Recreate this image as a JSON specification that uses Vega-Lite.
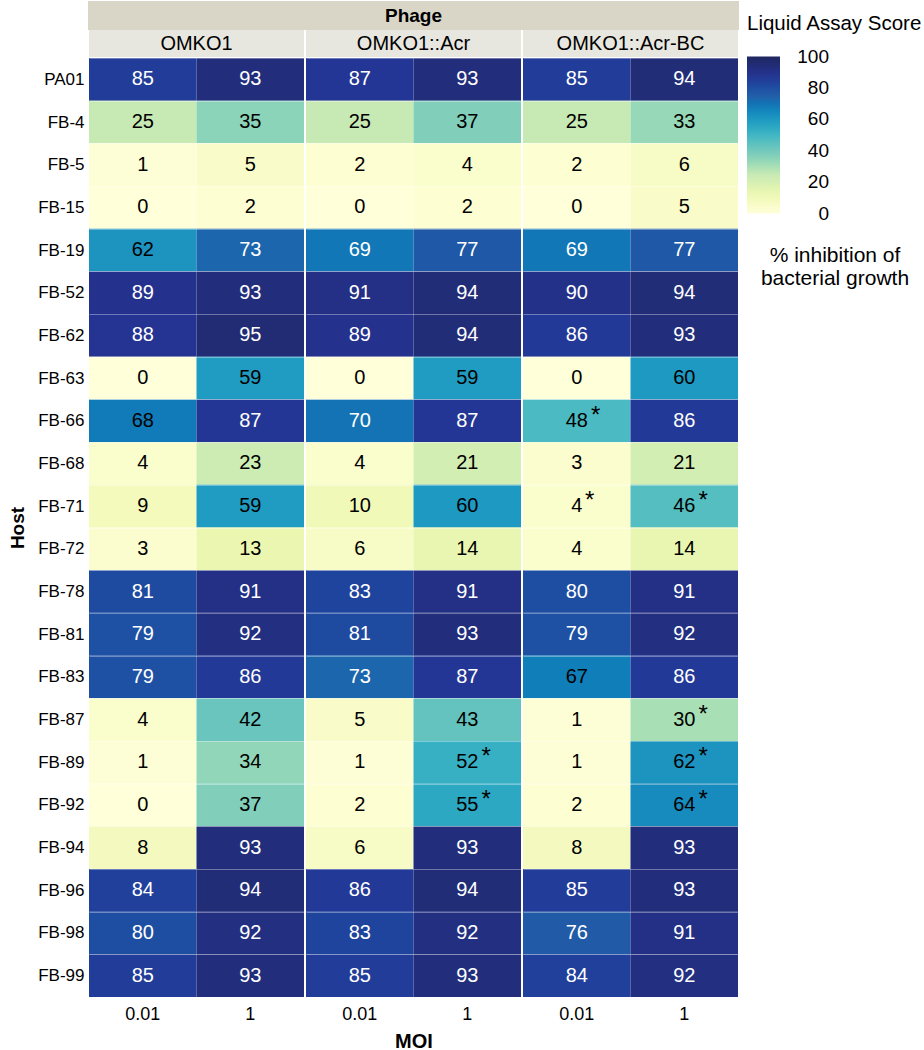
{
"$schema": "https://vega.github.io/schema/vega-lite/v6.json",
"padding": {"left": 8, "top": 1, "right": 0, "bottom": 0},
"spacing": 0,
"bounds": "full",
"data": {"values": [
{"host":"PA01","phage":"OMKO1","moi":"0.01","score":85},{"host":"PA01","phage":"OMKO1","moi":"1","score":93},{"host":"PA01","phage":"OMKO1::Acr","moi":"0.01","score":87},{"host":"PA01","phage":"OMKO1::Acr","moi":"1","score":93},{"host":"PA01","phage":"OMKO1::Acr-BC","moi":"0.01","score":85},{"host":"PA01","phage":"OMKO1::Acr-BC","moi":"1","score":94},
{"host":"FB-4","phage":"OMKO1","moi":"0.01","score":25},{"host":"FB-4","phage":"OMKO1","moi":"1","score":35},{"host":"FB-4","phage":"OMKO1::Acr","moi":"0.01","score":25},{"host":"FB-4","phage":"OMKO1::Acr","moi":"1","score":37},{"host":"FB-4","phage":"OMKO1::Acr-BC","moi":"0.01","score":25},{"host":"FB-4","phage":"OMKO1::Acr-BC","moi":"1","score":33},
{"host":"FB-5","phage":"OMKO1","moi":"0.01","score":1},{"host":"FB-5","phage":"OMKO1","moi":"1","score":5},{"host":"FB-5","phage":"OMKO1::Acr","moi":"0.01","score":2},{"host":"FB-5","phage":"OMKO1::Acr","moi":"1","score":4},{"host":"FB-5","phage":"OMKO1::Acr-BC","moi":"0.01","score":2},{"host":"FB-5","phage":"OMKO1::Acr-BC","moi":"1","score":6},
{"host":"FB-15","phage":"OMKO1","moi":"0.01","score":0},{"host":"FB-15","phage":"OMKO1","moi":"1","score":2},{"host":"FB-15","phage":"OMKO1::Acr","moi":"0.01","score":0},{"host":"FB-15","phage":"OMKO1::Acr","moi":"1","score":2},{"host":"FB-15","phage":"OMKO1::Acr-BC","moi":"0.01","score":0},{"host":"FB-15","phage":"OMKO1::Acr-BC","moi":"1","score":5},
{"host":"FB-19","phage":"OMKO1","moi":"0.01","score":62},{"host":"FB-19","phage":"OMKO1","moi":"1","score":73},{"host":"FB-19","phage":"OMKO1::Acr","moi":"0.01","score":69},{"host":"FB-19","phage":"OMKO1::Acr","moi":"1","score":77},{"host":"FB-19","phage":"OMKO1::Acr-BC","moi":"0.01","score":69},{"host":"FB-19","phage":"OMKO1::Acr-BC","moi":"1","score":77},
{"host":"FB-52","phage":"OMKO1","moi":"0.01","score":89},{"host":"FB-52","phage":"OMKO1","moi":"1","score":93},{"host":"FB-52","phage":"OMKO1::Acr","moi":"0.01","score":91},{"host":"FB-52","phage":"OMKO1::Acr","moi":"1","score":94},{"host":"FB-52","phage":"OMKO1::Acr-BC","moi":"0.01","score":90},{"host":"FB-52","phage":"OMKO1::Acr-BC","moi":"1","score":94},
{"host":"FB-62","phage":"OMKO1","moi":"0.01","score":88},{"host":"FB-62","phage":"OMKO1","moi":"1","score":95},{"host":"FB-62","phage":"OMKO1::Acr","moi":"0.01","score":89},{"host":"FB-62","phage":"OMKO1::Acr","moi":"1","score":94},{"host":"FB-62","phage":"OMKO1::Acr-BC","moi":"0.01","score":86},{"host":"FB-62","phage":"OMKO1::Acr-BC","moi":"1","score":93},
{"host":"FB-63","phage":"OMKO1","moi":"0.01","score":0},{"host":"FB-63","phage":"OMKO1","moi":"1","score":59},{"host":"FB-63","phage":"OMKO1::Acr","moi":"0.01","score":0},{"host":"FB-63","phage":"OMKO1::Acr","moi":"1","score":59},{"host":"FB-63","phage":"OMKO1::Acr-BC","moi":"0.01","score":0},{"host":"FB-63","phage":"OMKO1::Acr-BC","moi":"1","score":60},
{"host":"FB-66","phage":"OMKO1","moi":"0.01","score":68},{"host":"FB-66","phage":"OMKO1","moi":"1","score":87},{"host":"FB-66","phage":"OMKO1::Acr","moi":"0.01","score":70},{"host":"FB-66","phage":"OMKO1::Acr","moi":"1","score":87},{"host":"FB-66","phage":"OMKO1::Acr-BC","moi":"0.01","score":48,"star":true},{"host":"FB-66","phage":"OMKO1::Acr-BC","moi":"1","score":86},
{"host":"FB-68","phage":"OMKO1","moi":"0.01","score":4},{"host":"FB-68","phage":"OMKO1","moi":"1","score":23},{"host":"FB-68","phage":"OMKO1::Acr","moi":"0.01","score":4},{"host":"FB-68","phage":"OMKO1::Acr","moi":"1","score":21},{"host":"FB-68","phage":"OMKO1::Acr-BC","moi":"0.01","score":3},{"host":"FB-68","phage":"OMKO1::Acr-BC","moi":"1","score":21},
{"host":"FB-71","phage":"OMKO1","moi":"0.01","score":9},{"host":"FB-71","phage":"OMKO1","moi":"1","score":59},{"host":"FB-71","phage":"OMKO1::Acr","moi":"0.01","score":10},{"host":"FB-71","phage":"OMKO1::Acr","moi":"1","score":60},{"host":"FB-71","phage":"OMKO1::Acr-BC","moi":"0.01","score":4,"star":true},{"host":"FB-71","phage":"OMKO1::Acr-BC","moi":"1","score":46,"star":true},
{"host":"FB-72","phage":"OMKO1","moi":"0.01","score":3},{"host":"FB-72","phage":"OMKO1","moi":"1","score":13},{"host":"FB-72","phage":"OMKO1::Acr","moi":"0.01","score":6},{"host":"FB-72","phage":"OMKO1::Acr","moi":"1","score":14},{"host":"FB-72","phage":"OMKO1::Acr-BC","moi":"0.01","score":4},{"host":"FB-72","phage":"OMKO1::Acr-BC","moi":"1","score":14},
{"host":"FB-78","phage":"OMKO1","moi":"0.01","score":81},{"host":"FB-78","phage":"OMKO1","moi":"1","score":91},{"host":"FB-78","phage":"OMKO1::Acr","moi":"0.01","score":83},{"host":"FB-78","phage":"OMKO1::Acr","moi":"1","score":91},{"host":"FB-78","phage":"OMKO1::Acr-BC","moi":"0.01","score":80},{"host":"FB-78","phage":"OMKO1::Acr-BC","moi":"1","score":91},
{"host":"FB-81","phage":"OMKO1","moi":"0.01","score":79},{"host":"FB-81","phage":"OMKO1","moi":"1","score":92},{"host":"FB-81","phage":"OMKO1::Acr","moi":"0.01","score":81},{"host":"FB-81","phage":"OMKO1::Acr","moi":"1","score":93},{"host":"FB-81","phage":"OMKO1::Acr-BC","moi":"0.01","score":79},{"host":"FB-81","phage":"OMKO1::Acr-BC","moi":"1","score":92},
{"host":"FB-83","phage":"OMKO1","moi":"0.01","score":79},{"host":"FB-83","phage":"OMKO1","moi":"1","score":86},{"host":"FB-83","phage":"OMKO1::Acr","moi":"0.01","score":73},{"host":"FB-83","phage":"OMKO1::Acr","moi":"1","score":87},{"host":"FB-83","phage":"OMKO1::Acr-BC","moi":"0.01","score":67},{"host":"FB-83","phage":"OMKO1::Acr-BC","moi":"1","score":86},
{"host":"FB-87","phage":"OMKO1","moi":"0.01","score":4},{"host":"FB-87","phage":"OMKO1","moi":"1","score":42},{"host":"FB-87","phage":"OMKO1::Acr","moi":"0.01","score":5},{"host":"FB-87","phage":"OMKO1::Acr","moi":"1","score":43},{"host":"FB-87","phage":"OMKO1::Acr-BC","moi":"0.01","score":1},{"host":"FB-87","phage":"OMKO1::Acr-BC","moi":"1","score":30,"star":true},
{"host":"FB-89","phage":"OMKO1","moi":"0.01","score":1},{"host":"FB-89","phage":"OMKO1","moi":"1","score":34},{"host":"FB-89","phage":"OMKO1::Acr","moi":"0.01","score":1},{"host":"FB-89","phage":"OMKO1::Acr","moi":"1","score":52,"star":true},{"host":"FB-89","phage":"OMKO1::Acr-BC","moi":"0.01","score":1},{"host":"FB-89","phage":"OMKO1::Acr-BC","moi":"1","score":62,"star":true},
{"host":"FB-92","phage":"OMKO1","moi":"0.01","score":0},{"host":"FB-92","phage":"OMKO1","moi":"1","score":37},{"host":"FB-92","phage":"OMKO1::Acr","moi":"0.01","score":2},{"host":"FB-92","phage":"OMKO1::Acr","moi":"1","score":55,"star":true},{"host":"FB-92","phage":"OMKO1::Acr-BC","moi":"0.01","score":2},{"host":"FB-92","phage":"OMKO1::Acr-BC","moi":"1","score":64,"star":true},
{"host":"FB-94","phage":"OMKO1","moi":"0.01","score":8},{"host":"FB-94","phage":"OMKO1","moi":"1","score":93},{"host":"FB-94","phage":"OMKO1::Acr","moi":"0.01","score":6},{"host":"FB-94","phage":"OMKO1::Acr","moi":"1","score":93},{"host":"FB-94","phage":"OMKO1::Acr-BC","moi":"0.01","score":8},{"host":"FB-94","phage":"OMKO1::Acr-BC","moi":"1","score":93},
{"host":"FB-96","phage":"OMKO1","moi":"0.01","score":84},{"host":"FB-96","phage":"OMKO1","moi":"1","score":94},{"host":"FB-96","phage":"OMKO1::Acr","moi":"0.01","score":86},{"host":"FB-96","phage":"OMKO1::Acr","moi":"1","score":94},{"host":"FB-96","phage":"OMKO1::Acr-BC","moi":"0.01","score":85},{"host":"FB-96","phage":"OMKO1::Acr-BC","moi":"1","score":93},
{"host":"FB-98","phage":"OMKO1","moi":"0.01","score":80},{"host":"FB-98","phage":"OMKO1","moi":"1","score":92},{"host":"FB-98","phage":"OMKO1::Acr","moi":"0.01","score":83},{"host":"FB-98","phage":"OMKO1::Acr","moi":"1","score":92},{"host":"FB-98","phage":"OMKO1::Acr-BC","moi":"0.01","score":76},{"host":"FB-98","phage":"OMKO1::Acr-BC","moi":"1","score":91},
{"host":"FB-99","phage":"OMKO1","moi":"0.01","score":85},{"host":"FB-99","phage":"OMKO1","moi":"1","score":93},{"host":"FB-99","phage":"OMKO1::Acr","moi":"0.01","score":85},{"host":"FB-99","phage":"OMKO1::Acr","moi":"1","score":93},{"host":"FB-99","phage":"OMKO1::Acr-BC","moi":"0.01","score":84},{"host":"FB-99","phage":"OMKO1::Acr-BC","moi":"1","score":92}
]},
"hconcat": [
{
 "vconcat": [
  {"data": {"values": [{"label": ""}]}, "width": 215, "height": 27, "view": {"fill": "#d9d6c8", "stroke": "#d9d6c8", "strokeWidth": 2}, "mark": {"type": "text", "fontSize": 19, "fontWeight": "bold"}, "encoding": {"text": {"field": "label"}}},
  {"data": {"values": [{"label": "OMKO1"}]}, "width": 215, "height": 27, "view": {"fill": "#e8e7df"}, "mark": {"type": "text", "fontSize": 20}, "encoding": {"text": {"field": "label"}}},
  {
   "width": 215, "height": 939,
   "transform": [{"filter": "datum.phage === 'OMKO1'"}],
   "encoding": {
    "x": {"field": "moi", "type": "nominal", "sort": ["0.01", "1"], "axis": {"title": null, "labelAngle": 0, "labelFontSize": 18, "labelPadding": 8}},
    "y": {"field": "host", "type": "nominal", "sort": ["PA01","FB-4","FB-5","FB-15","FB-19","FB-52","FB-62","FB-63","FB-66","FB-68","FB-71","FB-72","FB-78","FB-81","FB-83","FB-87","FB-89","FB-92","FB-94","FB-96","FB-98","FB-99"], "axis": {"title": "Host", "titleFontSize": 19, "titleFontWeight": "bold", "titlePadding": 10, "labelFontSize": 17, "labelPadding": 5, "grid": true, "gridColor": "white", "gridOpacity": 0.35, "tickBand": "extent", "zindex": 1}}
   },
   "layer": [
    {"mark": "rect", "encoding": {"color": {"field": "score", "type": "quantitative", "scale": {"domain": [0, 12.5, 25, 37.5, 50, 62.5, 75, 87.5, 100], "range": ["#ffffd9", "#edf8b1", "#c7e9b4", "#7fcdbb", "#41b6c4", "#1d91c0", "#225ea8", "#253494", "#1f275f"]}, "legend": {"orient": "none", "legendX": 658, "legendY": 12, "title": "Liquid Assay Score", "values": [0, 20, 40, 60, 80, 100], "gradientLength": 157, "gradientThickness": 33, "gradientStrokeWidth": 0, "padding": 0, "titleFontSize": 20.5, "titleFontWeight": "normal", "titleColor": "black", "titlePadding": 22, "titleLimit": 300, "labelFontSize": 19, "labelColor": "black", "labelOffset": 49, "labelOverlap": false, "encode": {"labels": {"update": {"align": {"value": "right"}, "baseline": {"value": "middle"}}}}}}}},
    {"mark": {"type": "text", "fontSize": 20}, "encoding": {"text": {"field": "score", "type": "quantitative"}, "color": {"condition": {"test": "datum.score >= 69", "value": "white"}, "value": "black"}}},
    {"transform": [{"filter": "datum.star === true && datum.score >= 10"}], "mark": {"type": "text", "fontSize": 24, "dx": 19, "dy": -5, "color": "black"}, "encoding": {"text": {"value": "*"}}},
    {"transform": [{"filter": "datum.star === true && datum.score < 10"}], "mark": {"type": "text", "fontSize": 24, "dx": 13, "dy": -5, "color": "black"}, "encoding": {"text": {"value": "*"}}}
   ]
  }
 ],
 "spacing": 1,
 "bounds": "flush"
},
{
 "vconcat": [
  {"data": {"values": [{"label": "Phage"}]}, "width": 215, "height": 27, "view": {"fill": "#d9d6c8", "stroke": "#d9d6c8", "strokeWidth": 2}, "mark": {"type": "text", "fontSize": 19, "fontWeight": "bold"}, "encoding": {"text": {"field": "label"}}},
  {"data": {"values": [{"label": "OMKO1::Acr"}]}, "width": 215, "height": 27, "view": {"fill": "#e8e7df"}, "mark": {"type": "text", "fontSize": 20}, "encoding": {"text": {"field": "label"}}},
  {
   "width": 215, "height": 939,
   "transform": [{"filter": "datum.phage === 'OMKO1::Acr'"}],
   "encoding": {
    "x": {"field": "moi", "type": "nominal", "sort": ["0.01", "1"], "axis": {"title": "MOI", "titleFontSize": 20, "titleFontWeight": "bold", "titlePadding": 8, "labelAngle": 0, "labelFontSize": 18, "labelPadding": 8}},
    "y": {"field": "host", "type": "nominal", "sort": ["PA01","FB-4","FB-5","FB-15","FB-19","FB-52","FB-62","FB-63","FB-66","FB-68","FB-71","FB-72","FB-78","FB-81","FB-83","FB-87","FB-89","FB-92","FB-94","FB-96","FB-98","FB-99"], "axis": {"title": null, "labels": false, "grid": true, "gridColor": "white", "gridOpacity": 0.35, "tickBand": "extent", "zindex": 1}}
   },
   "layer": [
    {"mark": "rect", "encoding": {"color": {"field": "score", "type": "quantitative", "scale": {"domain": [0, 12.5, 25, 37.5, 50, 62.5, 75, 87.5, 100], "range": ["#ffffd9", "#edf8b1", "#c7e9b4", "#7fcdbb", "#41b6c4", "#1d91c0", "#225ea8", "#253494", "#1f275f"]}, "legend": {"orient": "none", "legendX": 658, "legendY": 12, "title": "Liquid Assay Score", "values": [0, 20, 40, 60, 80, 100], "gradientLength": 157, "gradientThickness": 33, "gradientStrokeWidth": 0, "padding": 0, "titleFontSize": 20.5, "titleFontWeight": "normal", "titleColor": "black", "titlePadding": 22, "titleLimit": 300, "labelFontSize": 19, "labelColor": "black", "labelOffset": 49, "labelOverlap": false, "encode": {"labels": {"update": {"align": {"value": "right"}, "baseline": {"value": "middle"}}}}}}}},
    {"mark": {"type": "text", "fontSize": 20}, "encoding": {"text": {"field": "score", "type": "quantitative"}, "color": {"condition": {"test": "datum.score >= 69", "value": "white"}, "value": "black"}}},
    {"transform": [{"filter": "datum.star === true && datum.score >= 10"}], "mark": {"type": "text", "fontSize": 24, "dx": 19, "dy": -5, "color": "black"}, "encoding": {"text": {"value": "*"}}},
    {"transform": [{"filter": "datum.star === true && datum.score < 10"}], "mark": {"type": "text", "fontSize": 24, "dx": 13, "dy": -5, "color": "black"}, "encoding": {"text": {"value": "*"}}}
   ]
  }
 ],
 "spacing": 1,
 "bounds": "flush"
},
{
 "vconcat": [
  {"data": {"values": [{"label": ""}]}, "width": 215, "height": 27, "view": {"fill": "#d9d6c8", "stroke": "#d9d6c8", "strokeWidth": 2}, "mark": {"type": "text", "fontSize": 19, "fontWeight": "bold"}, "encoding": {"text": {"field": "label"}}},
  {"data": {"values": [{"label": "OMKO1::Acr-BC"}]}, "width": 215, "height": 27, "view": {"fill": "#e8e7df"}, "mark": {"type": "text", "fontSize": 20}, "encoding": {"text": {"field": "label"}}},
  {
   "width": 215, "height": 939,
   "transform": [{"filter": "datum.phage === 'OMKO1::Acr-BC'"}],
   "encoding": {
    "x": {"field": "moi", "type": "nominal", "sort": ["0.01", "1"], "axis": {"title": null, "labelAngle": 0, "labelFontSize": 18, "labelPadding": 8}},
    "y": {"field": "host", "type": "nominal", "sort": ["PA01","FB-4","FB-5","FB-15","FB-19","FB-52","FB-62","FB-63","FB-66","FB-68","FB-71","FB-72","FB-78","FB-81","FB-83","FB-87","FB-89","FB-92","FB-94","FB-96","FB-98","FB-99"], "axis": {"title": null, "labels": false, "grid": true, "gridColor": "white", "gridOpacity": 0.35, "tickBand": "extent", "zindex": 1}}
   },
   "layer": [
    {"mark": "rect", "encoding": {"color": {"field": "score", "type": "quantitative", "scale": {"domain": [0, 12.5, 25, 37.5, 50, 62.5, 75, 87.5, 100], "range": ["#ffffd9", "#edf8b1", "#c7e9b4", "#7fcdbb", "#41b6c4", "#1d91c0", "#225ea8", "#253494", "#1f275f"]}, "legend": {"orient": "none", "legendX": 658, "legendY": 12, "title": "Liquid Assay Score", "values": [0, 20, 40, 60, 80, 100], "gradientLength": 157, "gradientThickness": 33, "gradientStrokeWidth": 0, "padding": 0, "titleFontSize": 20.5, "titleFontWeight": "normal", "titleColor": "black", "titlePadding": 22, "titleLimit": 300, "labelFontSize": 19, "labelColor": "black", "labelOffset": 49, "labelOverlap": false, "encode": {"labels": {"update": {"align": {"value": "right"}, "baseline": {"value": "middle"}}}}}}}},
    {"mark": {"type": "text", "fontSize": 20}, "encoding": {"text": {"field": "score", "type": "quantitative"}, "color": {"condition": {"test": "datum.score >= 69", "value": "white"}, "value": "black"}}},
    {"transform": [{"filter": "datum.star === true && datum.score >= 10"}], "mark": {"type": "text", "fontSize": 24, "dx": 19, "dy": -5, "color": "black"}, "encoding": {"text": {"value": "*"}}},
    {"transform": [{"filter": "datum.star === true && datum.score < 10"}], "mark": {"type": "text", "fontSize": 24, "dx": 13, "dy": -5, "color": "black"}, "encoding": {"text": {"value": "*"}}}
   ]
  }
 ],
 "spacing": 1,
 "bounds": "flush"
},
{
 "data": {"values": [{"caption": "% inhibition of\nbacterial growth"}]},
 "width": 192, "height": 508,
 "mark": {"type": "text", "fontSize": 21, "lineBreak": "\n", "lineHeight": 23},
 "encoding": {"text": {"field": "caption"}}
}
],
"config": {
 "font": "Liberation Sans",
 "view": {"stroke": null},
 "axis": {"domain": false, "ticks": false, "labelColor": "black", "titleColor": "black"}
}
}
